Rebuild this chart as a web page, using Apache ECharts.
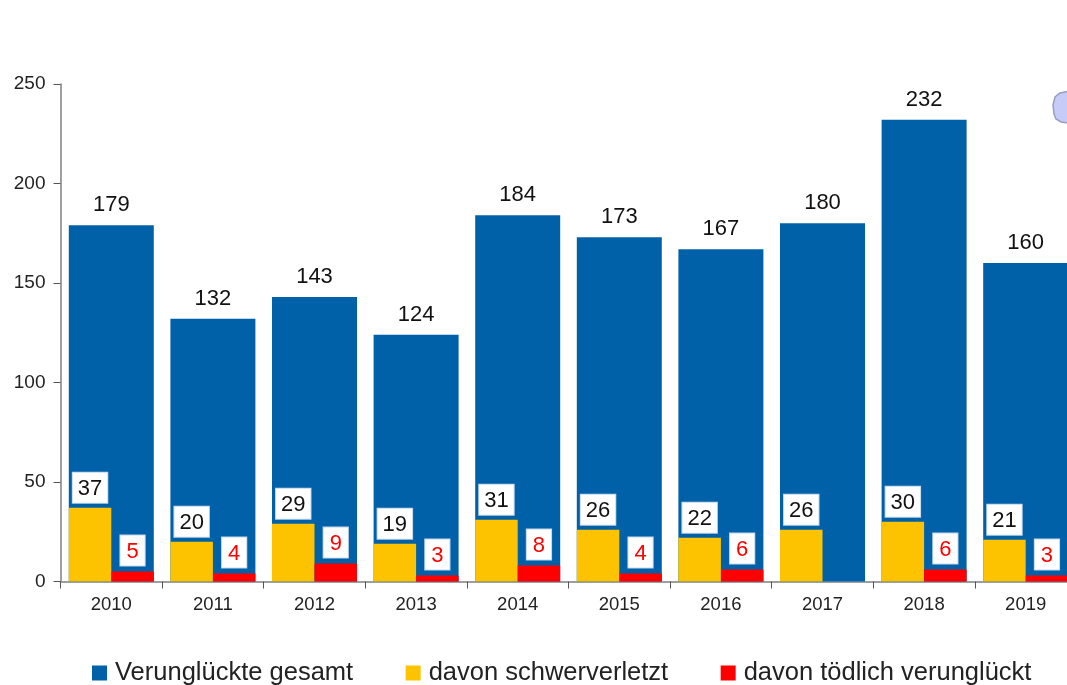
<!DOCTYPE html>
<html><head><meta charset="utf-8">
<style>html,body{margin:0;padding:0;background:#fff;overflow:hidden;width:1067px;height:685px}#c{width:1090px;height:685px}</style>
<script src="https://cdn.jsdelivr.net/npm/echarts@6/dist/echarts.min.js"></script>
</head><body><div id="c"></div>
<script>
const years = ['2010','2011','2012','2013','2014','2015','2016','2017','2018','2019'];
const gesamt = [179,132,143,124,184,173,167,180,232,160];
const schwer = [37,20,29,19,31,26,22,26,30,21];
const toedlich = [5,4,9,3,8,4,6,null,6,3];
const yTicks = {min:0,max:250,interval:50};
const FONT = '"Liberation Sans", Arial, sans-serif';
const boxLabel = (color,pad,dist) => ({
  show:true, position:'top', distance:dist, color, fontFamily:FONT, fontSize:22, lineHeight:24,
  backgroundColor:'#fff', borderColor:'#c4d6e8', borderWidth:1, padding:[4,pad,2,pad]
});
const xBase = {
  type:'category', data:years, boundaryGap:true,
  axisTick:{show:true,length:7,lineStyle:{color:'#555'}},
  axisLine:{show:true,lineStyle:{color:'#808080',width:1.5}},
  axisLabel:{color:'#222',fontFamily:FONT,fontSize:18.5,margin:14},
  splitLine:{show:false}
};
const chart = echarts.init(document.getElementById('c'),null,{renderer:'canvas'});
chart.setOption({
  animation:false, backgroundColor:'#fff',
  grid:{left:60.5,top:84,width:1016,height:497.5,containLabel:false},
  legend:{
    left:87, top:655, itemWidth:15, itemHeight:15, itemGap:52.5, icon:'rect',
    textStyle:{color:'#222',fontFamily:FONT,fontSize:25.5,padding:[0,0,0,3]},
    data:['Verunglückte gesamt','davon schwerverletzt','davon tödlich verunglückt']
  },
  xAxis:[xBase,{...xBase,show:false}],
  yAxis:{type:'value',...yTicks,
    axisLine:{show:true,lineStyle:{color:'#808080',width:1.5}},
    axisTick:{show:true,length:7,lineStyle:{color:'#555'}},
    axisLabel:{color:'#222',fontFamily:FONT,fontSize:19,margin:15,padding:[2,0,0,0]},
    splitLine:{show:false}},
  series:[
    {name:'Verunglückte gesamt',type:'bar',data:gesamt,xAxisIndex:0,barWidth:85,z:2,
     itemStyle:{color:'#0061a8'},
     label:{show:true,position:'top',distance:9,color:'#111',fontFamily:FONT,fontSize:22}},
    {name:'davon schwerverletzt',type:'bar',data:schwer,xAxisIndex:1,barWidth:42.5,barGap:0,z:3,
     itemStyle:{color:'#fdc300'},label:boxLabel('#111',5,5)},
    {name:'davon tödlich verunglückt',type:'bar',data:toedlich,xAxisIndex:1,barWidth:42.5,barGap:0,z:3,
     itemStyle:{color:'#ff0000'},label:boxLabel('#ff0000',6,6)}
  ],
  graphic:[{type:'polygon',z:1,
    shape:{points:[[1075,90],[1060,93],[1055,97],[1053,105],[1054,114],[1056,119],[1061,122],[1075,124]]},
    style:{fill:'#c6cbf7',stroke:'#9a9fc0',lineWidth:1.5}}]
});
</script></body></html>
